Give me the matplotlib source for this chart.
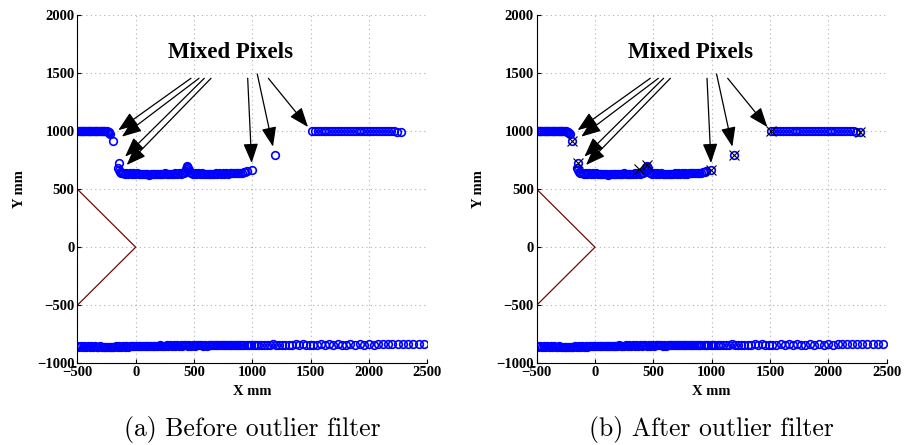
import matplotlib
matplotlib.use("Agg")
import matplotlib.pyplot as plt

# scan points (x mm, y mm)
bottom_wall = [
    (-500, -852), (-485, -856), (-470, -854), (-455, -858), (-440, -853), (-425, -857), (-410, -855), (-395, -859),
    (-380, -854), (-365, -857), (-350, -852), (-335, -856), (-320, -860), (-305, -855), (-290, -858), (-275, -862),
    (-260, -857), (-245, -860), (-230, -856), (-215, -861), (-200, -857), (-185, -859), (-170, -854), (-155, -858),
    (-140, -855), (-125, -859), (-110, -854), (-95, -857), (-80, -853), (-65, -856), (-50, -852), (-35, -855),
    (-20, -851), (-5, -854), (10, -850), (25, -853), (40, -849), (55, -852), (70, -848), (85, -851),
    (100, -853), (115, -849), (130, -852), (145, -848), (160, -851), (175, -847), (190, -850), (205, -846),
    (220, -849), (235, -852), (250, -848), (265, -845), (280, -849), (295, -846), (310, -850), (325, -846),
    (340, -849), (355, -845), (370, -848), (385, -844), (400, -847), (415, -843), (430, -846), (445, -849),
    (460, -845), (475, -848), (490, -844), (505, -847), (520, -843), (535, -846), (550, -842), (565, -845),
    (580, -848), (595, -844), (610, -847), (625, -843), (640, -846), (655, -842), (670, -845), (685, -841),
    (700, -844), (715, -840), (730, -843), (745, -839), (760, -842), (775, -845), (790, -841), (805, -844),
    (820, -840), (835, -843), (850, -839), (865, -842), (880, -845), (895, -841), (910, -844), (930, -840),
    (950, -843), (970, -839), (990, -842), (1010, -845), (1030, -841), (1050, -844), (1075, -840), (1100, -843),
    (1125, -839), (1150, -842), (1175, -838), (1200, -841), (1225, -844), (1250, -840), (1280, -843), (1310, -839),
    (1340, -842), (1370, -838), (1400, -841), (1430, -837), (1460, -840), (1490, -843), (1520, -839), (1555, -842),
    (1590, -838), (1625, -841), (1660, -837), (1695, -840), (1730, -836), (1765, -839), (1800, -842), (1840, -838),
    (1880, -841), (1920, -837), (1960, -840), (2000, -836), (2040, -839), (2080, -835), (2120, -838), (2160, -834),
    (2200, -837), (2245, -833), (2290, -836), (2335, -832), (2380, -835), (2425, -833), (2470, -834),
]

upper_left_wall = [
    (-500, 1000), (-490, 998), (-480, 1001), (-470, 999), (-460, 1002), (-450, 998), (-440, 1000), (-430, 997),
    (-420, 1001), (-410, 999), (-400, 1002), (-390, 998), (-380, 1000), (-370, 997), (-360, 1001), (-350, 999),
    (-340, 1002), (-330, 998), (-320, 1000), (-310, 997), (-300, 1001), (-290, 999), (-280, 1002), (-270, 998),
    (-260, 1000), (-250, 997), (-240, 996), (-232, 990), (-225, 982), (-218, 972),
]

lower_wall = [
    (-150, 680), (-143, 662), (-136, 648), (-128, 640), (-118, 636), (-105, 640), (-92, 634), (-80, 638),
    (-65, 632), (-50, 637), (-35, 631), (-20, 636), (-5, 630), (10, 635), (25, 629), (40, 634),
    (55, 628), (70, 633), (85, 627), (100, 632), (115, 626), (130, 631), (145, 627), (160, 632),
    (175, 628), (190, 633), (205, 629), (220, 634), (235, 630), (250, 635), (265, 629), (280, 633),
    (295, 628), (310, 634), (325, 630), (340, 635), (355, 631), (370, 636), (385, 632), (400, 637),
    (415, 640), (425, 655), (432, 672), (438, 688), (444, 700), (450, 684), (456, 664), (462, 645),
    (475, 636), (490, 632), (505, 637), (520, 631), (535, 636), (550, 630), (565, 635), (580, 629),
    (595, 634), (610, 628), (625, 633), (640, 629), (655, 634), (670, 630), (685, 635), (700, 631),
    (715, 636), (730, 632), (745, 637), (760, 633), (775, 638), (790, 634), (805, 639), (820, 635),
    (835, 640), (850, 636), (865, 641), (880, 638), (895, 643), (910, 640), (925, 645), (940, 648),
    (955, 652),
]

mixed_pixels = [(-197, 917), (-146, 723), (995, 662), (1190, 790)]

upper_right_wall = [
    (1508, 1000), (1535, 1003), (1560, 999), (1585, 1004), (1610, 1001), (1635, 1005), (1660, 1000), (1685, 1003),
    (1710, 999), (1735, 1004), (1760, 1001), (1785, 1005), (1810, 1000), (1835, 1003), (1860, 999), (1885, 1004),
    (1910, 1001), (1935, 1005), (1960, 1000), (1985, 1003), (2010, 999), (2035, 1004), (2060, 1001), (2085, 1005),
    (2110, 1000), (2135, 1003), (2160, 999), (2185, 1002), (2210, 998), (2240, 996), (2270, 994),
]

# points removed by the filter (right panel)
outliers = [(-197, 917), (-146, 723), (380, 672), (444, 706), (995, 662), (1190, 790), (1508, 1000), (2270, 994)]

# sensor field of view
fov_x = [-500, 0, -500]
fov_y = [500, 0, -500]

label_text = "Mixed Pixels"
label_pos = (815, 1673)
# (start, tip) of each arrow
arrows = [
    ((474, 1455), (-149, 1008)),
    ((543, 1455), (-118, 952)),
    ((588, 1455), (-91, 780)),
    ((646, 1455), (-77, 708)),
    ((960, 1455), (994, 725)),
    ((1042, 1492), (1177, 866)),
    ((1137, 1455), (1477, 1035)),
]

captions = ["(a) Before outlier filter", "(b) After outlier filter"]

serif = "Liberation Serif"
plt.rcParams["font.family"] = serif

fig = plt.figure(figsize=(9.13, 4.45), dpi=100)
ax1 = fig.add_axes([0.0847, 0.1836, 0.3834, 0.7827])
ax2 = fig.add_axes([0.5878, 0.1836, 0.3834, 0.7827])

segments = [bottom_wall, upper_left_wall, lower_wall, mixed_pixels, upper_right_wall]

for ax in (ax1, ax2):
    ax.plot(fov_x, fov_y, color="#6e0a0a", lw=0.9)
    for seg in segments:
        xs = [p[0] for p in seg]
        ys = [p[1] for p in seg]
        ax.plot(xs, ys, "o", ls="none", ms=5.5, mfc="none", mec="blue", mew=1.2)

    ax.set_xlim(-500, 2500)
    ax.set_ylim(-1000, 2000)
    ax.set_xticks(range(-500, 2501, 500))
    ax.set_yticks(range(-1000, 2001, 500))
    ax.grid(True, ls=(0, (1, 3)), color="#b0b0b0", lw=0.8)
    ax.set_axisbelow(True)
    for s in ("top", "right"):
        ax.spines[s].set_visible(False)
    ax.tick_params(direction="in", length=3, labelsize=10.5, pad=2)
    for lab in ax.get_xticklabels() + ax.get_yticklabels():
        lab.set_fontweight("bold")
    ax.set_xlabel("X mm", fontsize=10.5, fontweight="bold", labelpad=4)
    ax.set_ylabel("Y mm", fontsize=10.5, fontweight="bold", labelpad=8)

    ax.text(label_pos[0], label_pos[1], label_text, ha="center", va="center",
            fontsize=16.5, fontweight="bold")
    for start, tip in arrows:
        ax.annotate("", xy=tip, xytext=start,
                    arrowprops=dict(arrowstyle="-|>,head_length=1.0,head_width=0.38",
                                    color="k", lw=0.9, shrinkA=0, shrinkB=0,
                                    mutation_scale=12))

ax2.plot([p[0] for p in outliers], [p[1] for p in outliers], "x", ls="none",
         ms=7, color="k", mew=0.8)

fig.text(0.2764, 0.034, captions[0], ha="center", va="center", fontsize=18.5, family="cmr10")
fig.text(0.7795, 0.034, captions[1], ha="center", va="center", fontsize=18.5, family="cmr10")

fig.savefig("out.png", dpi=100)
